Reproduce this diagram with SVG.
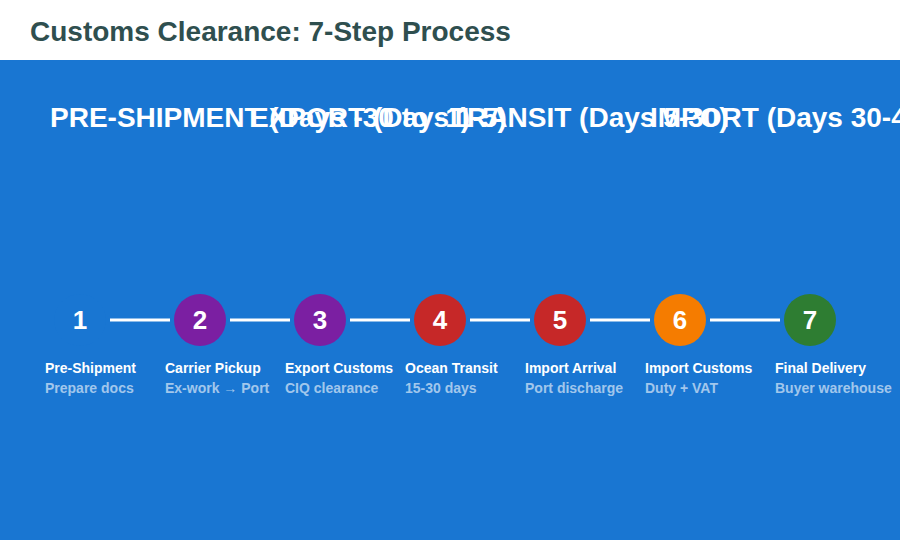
<svg xmlns="http://www.w3.org/2000/svg" width="900" height="540" viewBox="0 0 900 540">
<style>
.title{font-family:"Liberation Sans",Arial,sans-serif;font-weight:bold;font-size:28px;fill:#2f4f4f}
.phase{font-family:"Liberation Sans",Arial,sans-serif;font-weight:bold;font-size:28px;fill:#ffffff}
.num{font-family:"Liberation Sans",Arial,sans-serif;font-weight:bold;font-size:26px;fill:#ffffff;text-anchor:middle}
.lbl{font-family:"Liberation Sans",Arial,sans-serif;font-weight:bold;font-size:14px;fill:#ffffff}
.sub{font-family:"Liberation Sans",Arial,sans-serif;font-weight:bold;font-size:14px;fill:#ffffff;fill-opacity:0.6}
.conn{stroke:#ffffff;stroke-width:3}
</style>
<rect x="0" y="0" width="900" height="540" fill="#ffffff"/>
<text class="title" x="30" y="41">Customs Clearance: 7-Step Process</text>
<rect x="0" y="60" width="900" height="480" fill="#1976d2"/>
<g id="phases">
<text class="phase" x="50" y="127">PRE-SHIPMENT (Days -30 to -1)</text>
<text class="phase" x="250" y="127">EXPORT (Days 1-5)</text>
<text class="phase" x="450" y="127">TRANSIT (Days 5-30)</text>
<text class="phase" x="650" y="127">IMPORT (Days 30-45)</text>
</g>
<g id="connectors">
<line class="conn" x1="110" y1="320" x2="170" y2="320"/>
<line class="conn" x1="230" y1="320" x2="290" y2="320"/>
<line class="conn" x1="350" y1="320" x2="410" y2="320"/>
<line class="conn" x1="470" y1="320" x2="530" y2="320"/>
<line class="conn" x1="590" y1="320" x2="650" y2="320"/>
<line class="conn" x1="710" y1="320" x2="780" y2="320"/>
</g>
<g id="step1"><circle cx="80" cy="320" r="26" fill="#1976d2"/><text class="num" x="80" y="329">1</text><text class="lbl" x="45" y="373">Pre-Shipment</text><text class="sub" x="45" y="393">Prepare docs</text></g>
<g id="step2"><circle cx="200" cy="320" r="26" fill="#7b1fa2"/><text class="num" x="200" y="329">2</text><text class="lbl" x="165" y="373">Carrier Pickup</text><text class="sub" x="165" y="393">Ex-work → Port</text></g>
<g id="step3"><circle cx="320" cy="320" r="26" fill="#7b1fa2"/><text class="num" x="320" y="329">3</text><text class="lbl" x="285" y="373">Export Customs</text><text class="sub" x="285" y="393">CIQ clearance</text></g>
<g id="step4"><circle cx="440" cy="320" r="26" fill="#c62828"/><text class="num" x="440" y="329">4</text><text class="lbl" x="405" y="373">Ocean Transit</text><text class="sub" x="405" y="393">15-30 days</text></g>
<g id="step5"><circle cx="560" cy="320" r="26" fill="#c62828"/><text class="num" x="560" y="329">5</text><text class="lbl" x="525" y="373">Import Arrival</text><text class="sub" x="525" y="393">Port discharge</text></g>
<g id="step6"><circle cx="680" cy="320" r="26" fill="#f57c00"/><text class="num" x="680" y="329">6</text><text class="lbl" x="645" y="373">Import Customs</text><text class="sub" x="645" y="393">Duty + VAT</text></g>
<g id="step7"><circle cx="810" cy="320" r="26" fill="#2e7d32"/><text class="num" x="810" y="329">7</text><text class="lbl" x="775" y="373">Final Delivery</text><text class="sub" x="775" y="393">Buyer warehouse</text></g>
</svg>
